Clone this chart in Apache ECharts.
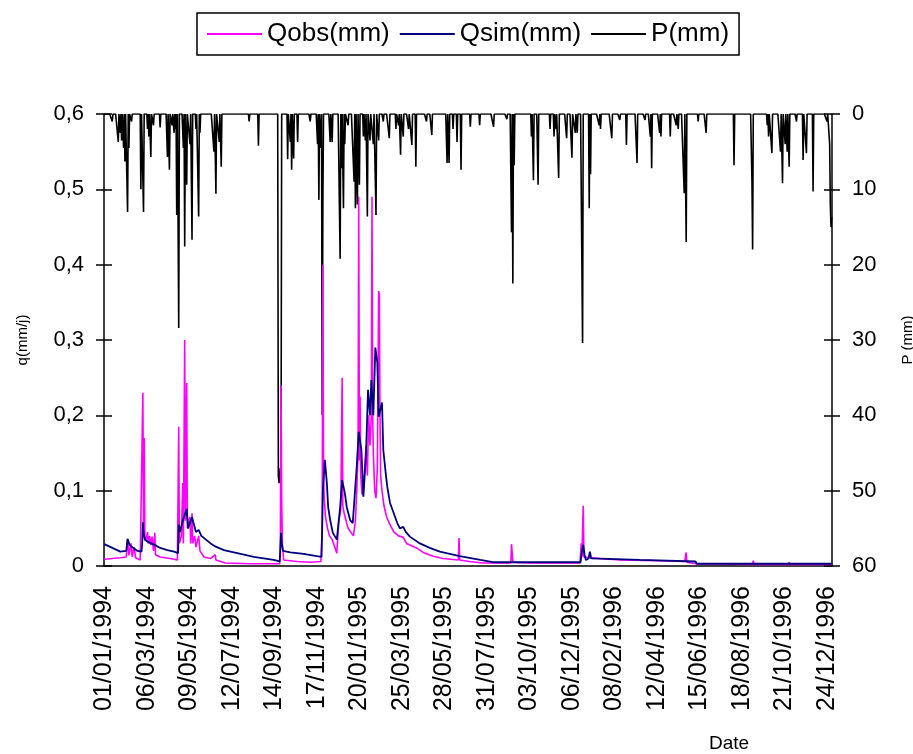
<!DOCTYPE html>
<html>
<head>
<meta charset="utf-8">
<title>Qobs / Qsim / P</title>
<script src="https://cdn.jsdelivr.net/npm/echarts@6/dist/echarts.min.js"></script>
<style>
  html, body { margin: 0; padding: 0; background: #fff; }
  #chart { width: 913px; height: 754px; }
</style>
</head>
<body>
<div id="chart"></div>
<script>
// days are counted from 01/01/1994 (day 0) to 31/12/1996 (day 1095)
const firstDay = Date.UTC(1994, 0, 1)
const dayCount = 1096
const labelEvery = 64

// observed discharge, [day, mm]
const qobs = [
  [0, 0.009], [24, 0.011], [33, 0.012], [35, 0.035], [37, 0.014], [40, 0.03], [42, 0.012], [45, 0.025],
  [47, 0.011], [54, 0.008], [57, 0.01], [58, 0.23], [59, 0.05], [60, 0.17], [61, 0.04], [63, 0.035],
  [65, 0.045], [66, 0.03], [68, 0.04], [70, 0.028], [72, 0.039], [74, 0.02], [76, 0.044], [77, 0.015],
  [84, 0.012], [99, 0.01], [110, 0.008], [112, 0.185], [113, 0.03], [116, 0.04], [118, 0.11], [119, 0.03],
  [121, 0.30], [122, 0.06], [124, 0.243], [125, 0.05], [127, 0.06], [129, 0.065], [130, 0.03], [132, 0.07],
  [133, 0.03], [136, 0.04], [138, 0.025], [142, 0.04], [144, 0.02], [150, 0.012], [160, 0.01], [167, 0.015],
  [168, 0.008], [182, 0.004], [220, 0.003], [264, 0.003], [265, 0.02], [266, 0.24], [267, 0.09], [268, 0.03],
  [270, 0.008], [290, 0.006], [310, 0.005], [326, 0.006], [328, 0.05], [329, 0.40], [330, 0.12], [331, 0.09],
  [333, 0.065], [336, 0.05], [339, 0.04], [343, 0.035], [347, 0.025], [350, 0.017], [353, 0.06], [356, 0.075],
  [358, 0.25], [359, 0.08], [361, 0.07], [364, 0.06], [367, 0.05], [371, 0.045], [375, 0.04], [378, 0.06],
  [380, 0.1], [382, 0.15], [383, 0.49], [384, 0.14], [385, 0.225], [386, 0.12], [388, 0.095], [390, 0.1],
  [392, 0.13], [394, 0.16], [396, 0.12], [398, 0.2], [400, 0.16], [402, 0.2], [403, 0.49], [404, 0.2],
  [405, 0.15], [407, 0.1], [409, 0.09], [411, 0.13], [413, 0.365], [414, 0.36], [415, 0.2], [416, 0.12],
  [418, 0.1], [421, 0.08], [425, 0.065], [430, 0.055], [436, 0.045], [443, 0.04], [450, 0.038], [455, 0.03],
  [460, 0.028], [470, 0.024], [480, 0.018], [495, 0.013], [510, 0.01], [533, 0.008], [534, 0.037], [535, 0.008],
  [550, 0.006], [570, 0.004], [612, 0.004], [613, 0.029], [614, 0.018], [615, 0.005], [640, 0.004], [716, 0.004],
  [718, 0.03], [719, 0.012], [721, 0.08], [722, 0.012], [724, 0.01], [746, 0.01], [776, 0.008], [837, 0.007],
  [874, 0.006], [875, 0.014], [876, 0.018], [877, 0.005], [890, 0.003], [976, 0.002], [977, 0.007], [978, 0.002],
  [1030, 0.002], [1031, 0.005], [1032, 0.002], [1095, 0.002]
]

// simulated discharge, [day, mm]
const qsim = [
  [0, 0.029], [12, 0.024], [24, 0.019], [33, 0.02], [35, 0.036], [38, 0.028], [42, 0.025], [50, 0.02],
  [56, 0.019], [57, 0.03], [58, 0.058], [59, 0.045], [61, 0.035], [66, 0.032], [70, 0.03], [76, 0.028],
  [84, 0.024], [95, 0.021], [105, 0.019], [111, 0.017], [112, 0.055], [114, 0.045], [118, 0.06], [121, 0.068],
  [124, 0.076], [126, 0.05], [129, 0.048], [132, 0.065], [134, 0.058], [138, 0.045], [142, 0.048], [146, 0.04],
  [153, 0.035], [160, 0.03], [167, 0.026], [180, 0.021], [195, 0.018], [210, 0.015], [225, 0.012], [240, 0.01],
  [255, 0.008], [264, 0.006], [266, 0.044], [267, 0.03], [269, 0.02], [280, 0.018], [300, 0.016], [320, 0.013],
  [327, 0.012], [328, 0.05], [329, 0.1], [332, 0.141], [335, 0.11], [337, 0.078], [340, 0.061], [344, 0.044],
  [350, 0.035], [355, 0.078], [358, 0.114], [362, 0.097], [365, 0.078], [370, 0.061], [374, 0.057], [380, 0.132],
  [383, 0.178], [387, 0.154], [390, 0.092], [394, 0.15], [397, 0.234], [400, 0.2], [402, 0.247], [405, 0.2],
  [408, 0.29], [411, 0.27], [413, 0.198], [415, 0.2], [418, 0.217], [420, 0.154], [424, 0.12], [426, 0.105],
  [430, 0.084], [441, 0.057], [445, 0.05], [450, 0.052], [454, 0.045], [460, 0.039], [475, 0.03], [490, 0.024],
  [505, 0.019], [535, 0.013], [566, 0.008], [585, 0.005], [717, 0.005], [719, 0.02], [721, 0.028], [723, 0.015],
  [725, 0.008], [729, 0.01], [731, 0.019], [733, 0.01], [736, 0.008], [806, 0.008], [808, 0.006], [890, 0.006],
  [892, 0.003], [1095, 0.003]
]

// rain days only, [day, mm] - every other day had no rain
const rain = [
  [12, 1], [21, 3.7], [24, 2.5], [26, 3.5], [29, 4.5], [31, 6.3], [35, 13], [37, 4.5], [41, 1], [55, 10],
  [59, 13], [65, 2], [67, 3], [70, 5.7], [74, 1.5], [84, 1.8], [95, 5.7], [98, 7.4], [102, 1.5], [105, 2.5],
  [107, 2], [109, 13.4], [112, 28.4], [119, 4.5], [121, 17.6], [124, 9.4], [129, 4], [132, 16.7], [138, 2],
  [142, 13.6], [144, 2.5], [165, 5], [168, 10.6], [173, 3.7], [176, 7], [218, 1], [232, 4.2], [262, 48],
  [263, 49], [264, 49], [265, 47], [266, 49], [276, 6], [280, 3.7], [282, 7.4], [285, 5.9], [291, 3.7],
  [310, 1], [321, 4], [323, 11.4], [326, 4.5], [328, 40], [329, 12], [340, 3.7], [343, 3.7], [355, 19.2],
  [357, 7.2], [360, 12.5], [362, 4], [367, 1.5], [376, 9], [378, 12.5], [381, 12], [384, 9.4], [390, 3],
  [393, 3.5], [396, 13.6], [400, 3.5], [405, 4], [409, 13.4], [413, 3.5], [420, 1], [429, 3.2], [439, 2],
  [443, 1.5], [446, 5.4], [450, 3], [458, 2], [463, 4.1], [469, 7], [485, 1], [493, 2.8], [516, 6.5],
  [519, 6.5], [525, 2], [531, 3.7], [537, 7.4], [551, 1.7], [565, 1.5], [586, 1.7], [606, 0.7], [613, 15.7],
  [615, 22.5], [617, 6.8], [643, 3], [646, 8.8], [653, 9.4], [671, 2], [677, 3], [680, 2], [684, 8.5],
  [696, 3.2], [704, 5.8], [709, 2.5], [712, 2.5], [720, 30.4], [730, 12.5], [732, 8], [745, 1.5], [747, 2],
  [764, 3.2], [776, 0.8], [786, 4.1], [802, 6.5], [814, 0.8], [822, 3], [824, 7.2], [836, 2.5], [838, 3],
  [852, 3], [861, 1.5], [864, 2], [873, 10.5], [876, 17], [894, 1], [906, 2.5], [948, 6.8], [975, 9],
  [976, 18], [998, 1.5], [1000, 3], [1005, 5.2], [1018, 5], [1021, 9.2], [1025, 4], [1028, 5], [1031, 7],
  [1042, 1], [1052, 6.1], [1057, 5.2], [1067, 10.3], [1088, 1], [1092, 4], [1093, 12], [1094, 15], [1095, 13.7]
]

const legendNames = ['Qobs(mm)', 'Qsim(mm)', 'P(mm)']

const font = "'Liberation Sans', Arial, sans-serif"

function pad(n) {
  return n < 10 ? '0' + n : '' + n
}

const dates = []
for (let i = 0; i < dayCount; i++) {
  const d = new Date(firstDay + i * 86400000)
  dates.push(pad(d.getUTCDate()) + '/' + pad(d.getUTCMonth() + 1) + '/' + d.getUTCFullYear())
}

// P is plotted day by day, dry days are 0
const pDaily = dates.map(() => 0)
rain.forEach(([day, mm]) => { pDaily[day] = mm })

const axisLine = { show: true, lineStyle: { color: '#000', width: 1.5 } }
const tickOut = { show: true, length: 8, lineStyle: { color: '#000', width: 1.5 } }
const tickIn = { show: true, inside: true, length: 8, lineStyle: { color: '#000', width: 1.5 } }

const chart = echarts.init(document.getElementById('chart'))
chart.setOption({
  animation: false,
  textStyle: { fontFamily: font, color: '#000' },
  title: {
    text: 'Date',
    left: 704,
    top: 729,
    textStyle: { fontFamily: font, fontSize: 19, fontWeight: 'normal', color: '#000' }
  },
  legend: {
    top: 13,
    left: 197,
    padding: [8, 10],
    borderColor: '#000',
    borderWidth: 1.5,
    icon: 'rect',
    itemWidth: 55,
    itemHeight: 2,
    itemGap: 10,
    data: legendNames,
    textStyle: { fontFamily: font, fontSize: 26, color: '#000' }
  },
  grid: { left: 104, right: 81, top: 114, bottom: 188, outerBoundsMode: 'none' },
  xAxis: {
    type: 'category',
    data: dates,
    boundaryGap: true,
    axisLine: axisLine,
    axisTick: { show: false },
    axisLabel: {
      interval: labelEvery - 1,
      rotate: 90,
      margin: 20,
      fontSize: 25,
      color: '#000'
    },
    splitLine: { show: false }
  },
  yAxis: [
    {
      type: 'value',
      position: 'left',
      min: 0,
      max: 0.6,
      interval: 0.1,
      name: 'q(mm/j)',
      nameLocation: 'middle',
      nameRotate: 90,
      nameGap: 74,
      nameTextStyle: { fontSize: 15, color: '#000' },
      axisLine: axisLine,
      axisTick: tickOut,
      axisLabel: {
        margin: 20,
        fontSize: 22,
        color: '#000',
        formatter: v => (v === 0 ? '0' : v.toFixed(1).replace('.', ','))
      },
      splitLine: { show: false }
    },
    {
      type: 'value',
      position: 'right',
      inverse: true,
      min: 0,
      max: 60,
      interval: 10,
      name: 'P (mm)',
      nameLocation: 'middle',
      nameRotate: 90,
      nameGap: 68,
      nameTextStyle: { fontSize: 15, color: '#000' },
      axisLine: axisLine,
      axisTick: tickOut,
      axisLabel: { margin: 20, fontSize: 22, color: '#000' },
      splitLine: { show: false }
    },
    // inner halves of the crossing tick marks
    {
      type: 'value', position: 'left', min: 0, max: 0.6, interval: 0.1,
      axisLine: { show: false }, axisTick: tickIn, axisLabel: { show: false }, splitLine: { show: false }
    },
    {
      type: 'value', position: 'right', min: 0, max: 60, interval: 10,
      axisLine: { show: false }, axisTick: tickIn, axisLabel: { show: false }, splitLine: { show: false }
    }
  ],
  series: [
    {
      name: 'P(mm)',
      type: 'line',
      yAxisIndex: 1,
      data: pDaily,
      symbol: 'none',
      color: '#000',
      lineStyle: { color: '#000', width: 1.6 }
    },
    {
      name: 'Qobs(mm)',
      type: 'line',
      yAxisIndex: 0,
      data: qobs,
      symbol: 'none',
      color: '#ff00ff',
      lineStyle: { color: '#ff00ff', width: 1.6 }
    },
    {
      name: 'Qsim(mm)',
      type: 'line',
      yAxisIndex: 0,
      data: qsim,
      symbol: 'none',
      color: '#000080',
      lineStyle: { color: '#000080', width: 1.8 }
    }
  ]
})
</script>
</body>
</html>
